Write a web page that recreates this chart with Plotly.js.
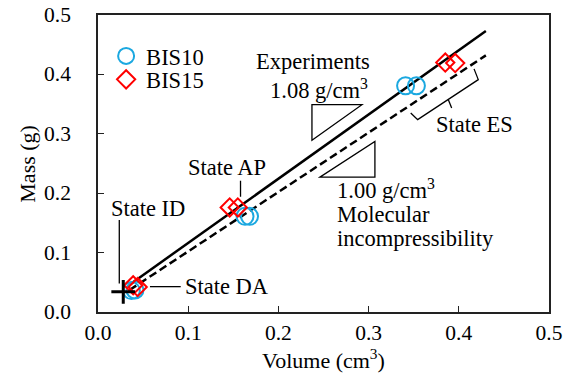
<!DOCTYPE html>
<html><head><meta charset="utf-8">
<script src="https://cdn.plot.ly/plotly-3.0.1.min.js"></script>
<style>body{margin:0;background:#fff}#chart{width:569px;height:376px}</style>
</head><body><div id="chart"></div>
<script>
// Data
const bis10Vol  = [0.037, 0.041, 0.163, 0.168, 0.341, 0.353];
const bis10Mass = [0.036, 0.037, 0.161, 0.161, 0.381, 0.381];
const bis15Vol  = [0.039, 0.044, 0.146, 0.155, 0.385, 0.396];
const bis15Mass = [0.045, 0.042, 0.176, 0.176, 0.420, 0.419];
const idVol = [0.028], idMass = [0.034];
const fitVol = [0.035, 0.43];
const expMass = [0.046, 0.473];   // 1.08 g/cm3
const incMass = [0.037, 0.432];   // 1.00 g/cm3
const xTicks = [0, 0.1, 0.2, 0.3, 0.4, 0.5];
const yTicks = [0, 0.1, 0.2, 0.3, 0.4, 0.5];
const yTickLabels = ['0.0', '0.1', '0.2', '0.3', '0.4', '0.5'];

const F = "'Liberation Serif', 'Times New Roman', serif";
const traces = [
  {x: fitVol, y: expMass, mode: 'lines', line: {color: '#000', width: 2.5}, showlegend: false, hoverinfo: 'skip'},
  {x: fitVol, y: incMass, mode: 'lines', line: {color: '#000', width: 2.5, dash: '8px,4px'}, showlegend: false, hoverinfo: 'skip'},
  {x: bis10Vol, y: bis10Mass, mode: 'markers', name: 'BIS10', legend: 'legend',
   marker: {symbol: 'circle-open', size: 17, color: '#1BA8E0', line: {width: 2}}},
  {x: bis15Vol, y: bis15Mass, mode: 'markers', name: 'BIS15', legend: 'legend2',
   marker: {symbol: 'diamond-open', size: 14, color: '#FF0000', line: {width: 2}}},
  {x: idVol, y: idMass, mode: 'markers', showlegend: false,
   marker: {symbol: 'cross-thin-open', size: 17, color: '#000', line: {width: 3, color: '#000'}}}
];

function seg(pts){ return 'M' + pts.map(p => p[0] + ',' + p[1]).join(' L'); }
const lineStyle = {color: '#000', width: 1.3};
const shapes = [
  {type: 'path', xref: 'x', yref: 'y', path: seg([[0.2372,0.349],[0.2926,0.349],[0.2372,0.289]]) + ' Z', line: lineStyle},
  {type: 'path', xref: 'x', yref: 'y', path: seg([[0.307,0.287],[0.307,0.227],[0.246,0.227]]) + ' Z', line: lineStyle},
  {type: 'path', xref: 'x', yref: 'y', path: seg([[0.4169,0.4093],[0.4216,0.3912],[0.3544,0.3238],[0.3467,0.3351]]), line: lineStyle},
  {type: 'line', xref: 'x', yref: 'y', x0: 0.3884, y0: 0.3575, x1: 0.3921, y1: 0.3435, line: lineStyle},
  {type: 'line', xref: 'x', yref: 'y', x0: 0.158, y0: 0.221, x1: 0.158, y1: 0.194, line: lineStyle},
  {type: 'line', xref: 'x', yref: 'y', x0: 0.0236, y0: 0.155, x1: 0.0236, y1: 0.048, line: lineStyle},
  {type: 'line', xref: 'x', yref: 'y', x0: 0.0576, y0: 0.0427, x1: 0.0917, y1: 0.0427, line: lineStyle}
];

const tf = {family: F, size: 22.5, color: '#000'};
function ann(text, x, y, xa){ return {text: text, x: x, y: y, xref: 'x', yref: 'y', showarrow: false, xanchor: xa || 'center', yanchor: 'middle', font: tf, align: 'left'}; }
const annotations = [
  ann('Experiments', 0.2384, 0.4216),
  ann('1.08 g/cm<sup>3</sup>', 0.245, 0.376),
  ann('1.00 g/cm<sup>3</sup>', 0.2627, 0.207, 'left'),
  ann('Molecular', 0.2627, 0.164, 'left'),
  ann('incompressibility', 0.2627, 0.124, 'left'),
  ann('State ES', 0.4169, 0.315),
  ann('State AP', 0.143, 0.243),
  ann('State ID', 0.0558, 0.175),
  ann('State DA', 0.1427, 0.0427)
];
// y tick labels, placed on the y axis scale
yTicks.forEach((v, i) => annotations.push({text: yTickLabels[i], x: -0.056, y: v, xref: 'paper', yref: 'y',
  showarrow: false, xanchor: 'right', yanchor: 'middle', font: {family: F, size: 21.5, color: '#000'}}));
annotations.push({text: 'Mass (g)', x: -0.157, y: 0.5, xref: 'paper', yref: 'paper', textangle: -90,
  showarrow: false, xanchor: 'center', yanchor: 'middle', font: {family: F, size: 22, color: '#000'}});

const axisCommon = {range: [0, 0.5], showgrid: false, zeroline: false,
  showline: true, linecolor: '#222', linewidth: 1.8, mirror: true,
  ticks: 'inside', ticklen: 6, tickwidth: 1.3, tickcolor: '#222',
  tickfont: {family: F, size: 21.5, color: '#000'}, tickformat: '.1f'};

const legCommon = {xanchor: 'left', yanchor: 'middle', bgcolor: 'rgba(0,0,0,0)', font: {family: F, size: 22.5, color: '#000'}, itemwidth: 30};
const layout = {
  width: 569, height: 376,
  margin: {l: 98, r: 20, t: 15, b: 64},
  paper_bgcolor: '#fff', plot_bgcolor: '#fff',
  font: {family: F, color: '#000'},
  xaxis: Object.assign({}, axisCommon, {tickvals: xTicks, title: {text: 'Volume (cm<sup>3</sup>)', font: {family: F, size: 22}, standoff: 4}}),
  yaxis: Object.assign({}, axisCommon, {tickvals: yTicks, showticklabels: false}),
  legend: Object.assign({}, legCommon, {x: 0.018, y: 0.861}),
  legend2: Object.assign({}, legCommon, {x: 0.018, y: 0.782}),
  shapes: shapes, annotations: annotations
};
Plotly.newPlot('chart', traces, layout, {displayModeBar: false, staticPlot: true});
</script></body></html>
